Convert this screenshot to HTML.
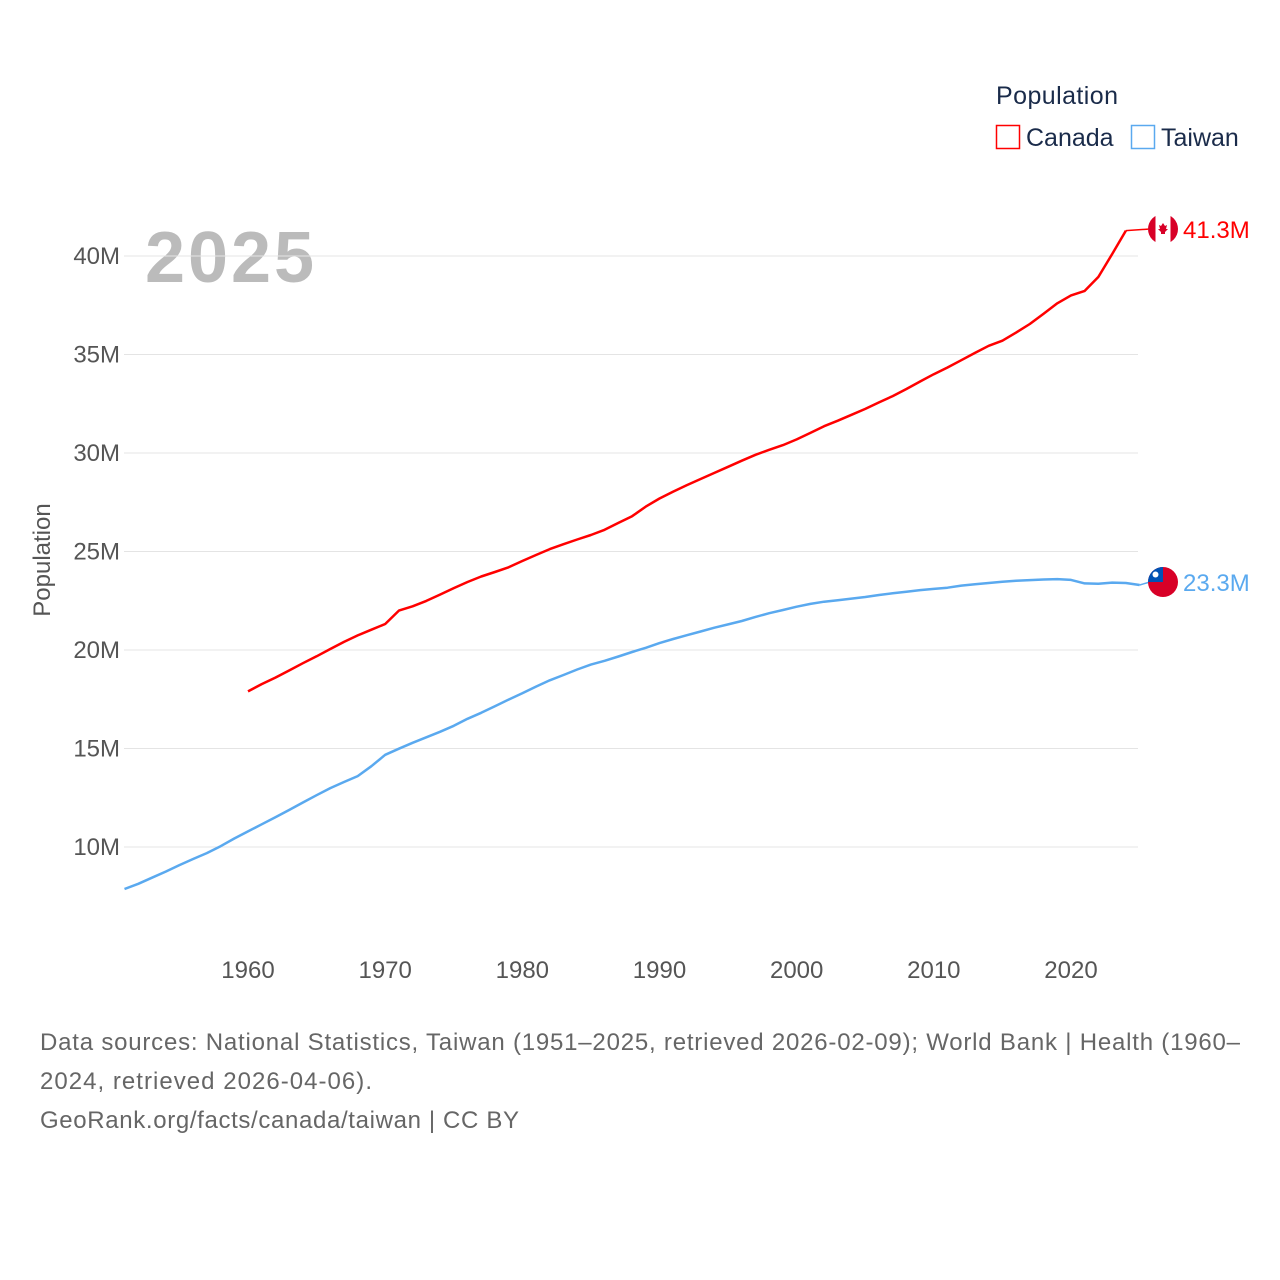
<!DOCTYPE html>
<html><head><meta charset="utf-8"><style>
body{margin:0;background:#fff;width:1280px;height:1280px;overflow:hidden;font-family:"Liberation Sans",sans-serif}
svg{display:block}
</style></head><body>
<svg id="chart" width="1280" height="1280" xmlns="http://www.w3.org/2000/svg">
<text x="996" y="104" font-size="25" fill="#1a2b4a" textLength="122">Population</text>
<g><rect x="996.5" y="125.5" width="23" height="23" fill="none" stroke="#f00" stroke-width="1.5"/><text x="1026" y="146" font-size="25" fill="#1a2b4a">Canada</text></g>
<g><rect x="1131.5" y="125.5" width="23" height="23" fill="none" stroke="#5aa9ef" stroke-width="1.5"/><text x="1161" y="146" font-size="25" fill="#1a2b4a">Taiwan</text></g>
<text x="145" y="282" font-size="72" font-weight="bold" fill="#bbb" textLength="169">2025</text>
<g id="grid"></g><g id="yt"></g><g id="xt"></g><g id="lines"></g>
<text transform="translate(50,560) rotate(-90)" text-anchor="middle" font-size="24" fill="#555">Population</text>
<g font-size="24" fill="#666">
<text x="40" y="1050" textLength="1200">Data sources: National Statistics, Taiwan (1951–2025, retrieved 2026-02-09); World Bank | Health (1960–</text>
<text x="40" y="1089" textLength="332">2024, retrieved 2026-04-06).</text>
<text x="40" y="1128" textLength="479">GeoRank.org/facts/canada/taiwan | CC BY</text>
</g>
</svg>
<script>
const yTicks=[10,15,20,25,30,35,40];
const xTicks=[1960,1970,1980,1990,2000,2010,2020];
const canadaStart=1960;
const canada=[17.9,18.27,18.6,18.96,19.33,19.68,20.05,20.41,20.74,21.03,21.32,22.0,22.22,22.49,22.81,23.14,23.45,23.73,23.96,24.2,24.52,24.82,25.12,25.37,25.61,25.84,26.1,26.45,26.79,27.28,27.69,28.04,28.37,28.68,28.99,29.3,29.61,29.91,30.16,30.4,30.69,31.02,31.36,31.64,31.94,32.24,32.57,32.89,33.25,33.63,34.0,34.34,34.71,35.08,35.44,35.7,36.11,36.55,37.07,37.6,38.0,38.23,38.94,40.1,41.29];
const taiwanStart=1951;
const taiwan=[7.87,8.13,8.44,8.75,9.08,9.39,9.69,10.04,10.43,10.79,11.15,11.51,11.88,12.26,12.63,12.99,13.3,13.6,14.1,14.68,14.99,15.29,15.57,15.85,16.15,16.51,16.81,17.14,17.48,17.8,18.14,18.46,18.73,19.01,19.26,19.45,19.67,19.9,20.11,20.35,20.56,20.75,20.94,21.13,21.3,21.47,21.68,21.87,22.03,22.2,22.34,22.45,22.53,22.61,22.69,22.79,22.88,22.96,23.04,23.1,23.16,23.27,23.34,23.4,23.46,23.52,23.55,23.58,23.6,23.56,23.38,23.36,23.42,23.4,23.3];
const X=y=>248+(y-1960)*823/60;
const Y=v=>847-(v-10)*19.7;
const NS='http://www.w3.org/2000/svg';
function mk(t,a,p){const e=document.createElementNS(NS,t);for(const k in a)e.setAttribute(k,a[k]);document.getElementById(p).appendChild(e);return e;}
yTicks.forEach(v=>{
 const l=mk('line',{x1:124,x2:1138,y1:Y(v),y2:Y(v),stroke:'#e4e4e4','stroke-width':1},'grid');
 
 
 const t=mk('text',{x:120,y:Y(v)+8,'text-anchor':'end','font-size':24,fill:'#555'},'yt');
 t.textContent=v+'M';
 
 
});
xTicks.forEach(y=>{
 const t=mk('text',{x:X(y),y:978,'text-anchor':'middle','font-size':24,fill:'#555'},'xt');
 t.textContent=y;
 
 
});
function series(arr,start,col,name,flagY,label){
 let d=arr.map((v,i)=>(i?'L':'M')+X(start+i).toFixed(1)+','+Y(v).toFixed(1)).join('');
 const lx=X(start+arr.length-1),ly=Y(arr[arr.length-1]);
 const p=mk('path',{d:d,fill:'none',stroke:col,'stroke-width':2.5,'stroke-linejoin':'round'},'lines');
 
 
 const c=mk('path',{d:'M'+lx+','+ly+'L1150,'+flagY,fill:'none',stroke:col,'stroke-width':1.5},'lines');
 
 
 const t=mk('text',{x:1183,y:flagY+9,'font-size':24,fill:col},'lines');
 t.textContent=label;
 
 
}
series(canada,canadaStart,'#f00','canada',229,'41.3M');
series(taiwan,taiwanStart,'#5aa9ef','taiwan',582,'23.3M');
let g=mk('g',{},'lines');


g.innerHTML='<clipPath id="cc"><circle cx="1163" cy="229" r="15"/></clipPath><g clip-path="url(#cc)"><rect x="1148" y="214" width="30" height="30" fill="#fff"/><rect x="1148" y="214" width="7.5" height="30" fill="#d80027"/><rect x="1170.5" y="214" width="7.5" height="30" fill="#d80027"/><path d="M1163,223 l2,3 2,-1 -1,4 2,0 -3,3 0,2 -4,0 0,-2 -3,-3 2,0 -1,-4 2,1z" fill="#d80027"/></g>';
g=mk('g',{},'lines');


g.innerHTML='<clipPath id="tc"><circle cx="1163" cy="582" r="15"/></clipPath><g clip-path="url(#tc)"><rect x="1148" y="567" width="30" height="30" fill="#d80027"/><rect x="1148" y="567" width="15" height="15" fill="#0052b4"/><circle cx="1155.5" cy="574.5" r="3" fill="#fff"/></g>';
</script>
</body></html>
